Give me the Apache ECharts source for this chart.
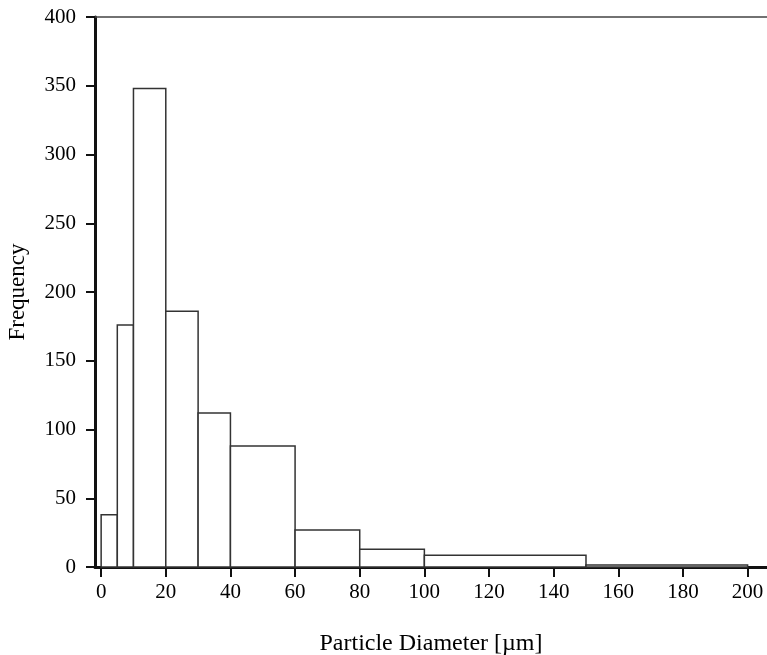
<!DOCTYPE html>
<html>
<head>
<meta charset="utf-8">
<script src="https://cdn.jsdelivr.net/npm/echarts@6/dist/echarts.min.js"></script>
<style>
html,body{margin:0;padding:0;background:#fff;}
#chart{width:767px;height:655px;}
</style>
</head>
<body>
<div id="chart"></div>
<script>
// Histogram bins (particle diameter, µm) and frequencies
var binStarts = [0, 5, 10, 20, 30, 40, 60, 80, 100, 150];
var binEnds   = [5, 10, 20, 30, 40, 60, 80, 100, 150, 200];
var frequencies = [38, 176, 348, 186, 112, 88, 27, 13, 8.5, 1.5];
var xTicks = [0, 20, 40, 60, 80, 100, 120, 140, 160, 180, 200];
var yTicks = [0, 50, 100, 150, 200, 250, 300, 350, 400];

var data = binStarts.map(function (s, i) { return [s, binEnds[i], frequencies[i]]; });
var FONT = '"Liberation Serif", "Times New Roman", serif';

var chart = echarts.init(document.getElementById('chart'));
chart.setOption({
  animation: false,
  grid: { left: 95, right: 0, top: 17, bottom: 88, containLabel: false, outerBoundsMode: 'none' },
  xAxis: [{
    type: 'value', min: -1.9, max: 206,
    name: 'Particle Diameter [µm]', nameLocation: 'middle', nameGap: 65, nameMoveOverlap: false,
    nameTextStyle: { fontFamily: FONT, fontSize: 24, color: '#000' },
    axisLine: { show: true, onZero: false, lineStyle: { color: '#111', width: 3 } },
    axisTick: { show: true, customValues: xTicks, length: 10, lineStyle: { color: '#111', width: 2 } },
    axisLabel: { customValues: xTicks, margin: 15, fontFamily: FONT, fontSize: 21, color: '#000' },
    splitLine: { show: false }
  }, {
    type: 'value', position: 'top', min: -1.9, max: 206,
    axisLine: { show: true, onZero: false, lineStyle: { color: '#444', width: 1.5 } },
    axisTick: { show: false }, axisLabel: { show: false }, splitLine: { show: false }
  }],
  yAxis: {
    type: 'value', min: 0, max: 400, interval: 50,
    name: 'Frequency', nameLocation: 'middle', nameGap: 66, nameMoveOverlap: false,
    nameTextStyle: { fontFamily: FONT, fontSize: 23, color: '#000' },
    axisLine: { show: true, onZero: false, lineStyle: { color: '#111', width: 3 } },
    axisTick: { show: true, length: 9, lineStyle: { color: '#111', width: 2 } },
    axisLabel: { customValues: yTicks, margin: 19, fontFamily: FONT, fontSize: 21, color: '#000' },
    splitLine: { show: false }
  },
  series: [{
    type: 'custom',
    xAxisIndex: 0,
    data: data,
    encode: { x: [0, 1], y: 2 },
    renderItem: function (params, api) {
      var p0 = api.coord([api.value(0), 0]);
      var p1 = api.coord([api.value(1), api.value(2)]);
      return {
        type: 'rect',
        shape: { x: p0[0], y: p1[1], width: p1[0] - p0[0], height: p0[1] - p1[1] },
        style: { fill: '#fff', stroke: '#333', lineWidth: 1.5 }
      };
    }
  }]
});
</script>
</body>
</html>
